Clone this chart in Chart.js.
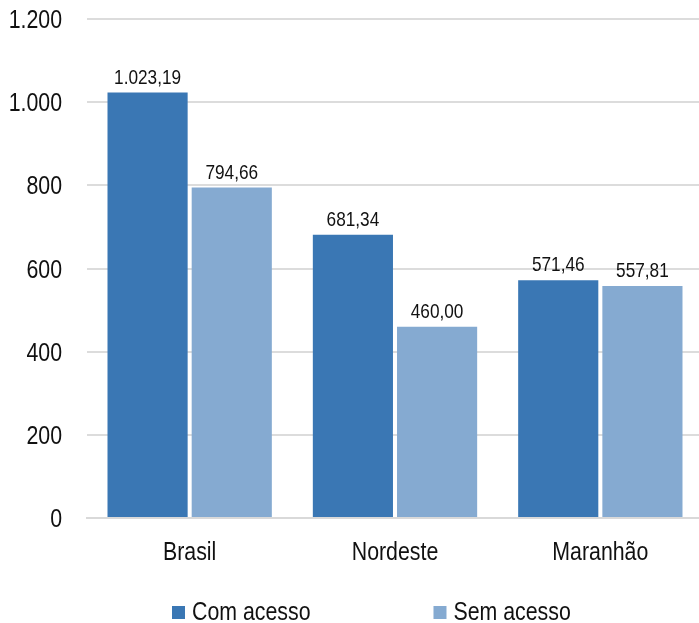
<!DOCTYPE html>
<html>
<head>
<meta charset="utf-8">
<script src="https://cdn.jsdelivr.net/npm/chart.js@4/dist/chart.umd.min.js"></script>
<style>
  html, body { margin: 0; padding: 0; background: #fff; overflow: hidden; }
  #wrap { width: 703px; height: 623px; position: relative; }
</style>
</head>
<body>
<div id="wrap"><canvas id="chart"></canvas></div>
<script>
// dados
const categorias = ["Brasil", "Nordeste", "Maranhão"];
const comAcesso = [1023.19, 681.34, 571.46];
const semAcesso = [794.66, 460.00, 557.81];
const nomesSeries = ["Com acesso", "Sem acesso"];
const coresSeries = ["#3a77b4", "#85aad1"];
const yMin = 0;
const yMax = 1200;
const yPasso = 200;

// fonte tipo "Arial Narrow": Liberation Sans comprimida na horizontal
const FONTE = "'Liberation Sans', Arial, sans-serif";
const APERTO = 0.82;
const COR_TEXTO = "#111";

// formato pt-BR feito à mão (ponto para milhar, vírgula decimal)
function fmt(v, dec) {
  const partes = v.toFixed(dec).split(".");
  const inteiro = partes[0].replace(/\B(?=(\d{3})+(?!\d))/g, ".");
  return partes.length > 1 ? inteiro + "," + partes[1] : inteiro;
}

function texto(ctx, t, x, y, tam, align) {
  ctx.save();
  ctx.font = tam + "px " + FONTE;
  ctx.fillStyle = COR_TEXTO;
  ctx.textAlign = align || "center";
  ctx.textBaseline = "alphabetic";
  ctx.translate(x, y);
  ctx.scale(APERTO, 1);
  ctx.fillText(t, 0, 0);
  ctx.restore();
}

function larguraTexto(ctx, t, tam) {
  ctx.save();
  ctx.font = tam + "px " + FONTE;
  const w = ctx.measureText(t).width * APERTO;
  ctx.restore();
  return w;
}

// rótulos dos eixos desenhados a partir das escalas do Chart.js
const eixosPlugin = {
  id: "eixosTexto",
  afterDraw(chart) {
    const ctx = chart.ctx;
    const sy = chart.scales.y;
    sy.ticks.forEach((t, i) => {
      const py = sy.getPixelForTick(i);
      texto(ctx, fmt(t.value, 0), sy.right - 25, py + 9, 26, "right");
    });
    const sx = chart.scales.x;
    sx.ticks.forEach((t, i) => {
      const px = sx.getPixelForTick(i);
      texto(ctx, sx.getLabelForValue(t.value), px, sx.top + 42, 26, "center");
    });
  },
};

// rótulos de valor em cima das barras
const rotulosPlugin = {
  id: "rotulos",
  afterDatasetsDraw(chart) {
    chart.data.datasets.forEach((ds, i) => {
      chart.getDatasetMeta(i).data.forEach((bar, j) => {
        texto(chart.ctx, fmt(ds.data[j], 2), bar.x, bar.y - 9, 21, "center");
      });
    });
  },
};

// legenda desenhada à mão (quadrado afastado 7px do texto)
const legendaPlugin = {
  id: "legendaCustom",
  afterDraw(chart) {
    const ctx = chart.ctx;
    const base = 620;
    const caixa = 13;
    const gapTexto = 7;
    const gapItens = 123;
    const tam = 26;
    let x = 172;
    chart.data.datasets.forEach((ds) => {
      ctx.fillStyle = ds.backgroundColor;
      ctx.fillRect(x, base - 14, caixa, caixa);
      texto(ctx, ds.label, x + caixa + gapTexto, base, tam, "left");
      x += caixa + gapTexto + larguraTexto(ctx, ds.label, tam) + gapItens;
    });
  },
};

const chart = new Chart(document.getElementById("chart"), {
  type: "bar",
  data: {
    labels: categorias,
    datasets: [
      { label: nomesSeries[0], data: comAcesso, backgroundColor: coresSeries[0] },
      { label: nomesSeries[1], data: semAcesso, backgroundColor: coresSeries[1] },
    ],
  },
  options: {
    responsive: true,
    maintainAspectRatio: false,
    animation: false,
    devicePixelRatio: 1,
    categoryPercentage: 0.82,
    barPercentage: 0.952,
    layout: { padding: { top: 19, right: 0, bottom: 0, left: 0 } },
    plugins: {
      legend: { display: false },
      tooltip: { enabled: false },
    },
    scales: {
      x: {
        afterFit(s) { s.height = 105; },
        grid: { display: false, drawTicks: false },
        border: { color: "#d9d9d9", width: 2 },
        ticks: { display: false },
      },
      y: {
        min: yMin,
        max: yMax,
        afterFit(s) { s.width = 87; },
        grid: { color: "#dcdcdc", lineWidth: 2, drawTicks: false },
        border: { display: false },
        ticks: { stepSize: yPasso, display: false },
      },
    },
  },
  plugins: [rotulosPlugin, eixosPlugin, legendaPlugin],
});
</script>
</body>
</html>
